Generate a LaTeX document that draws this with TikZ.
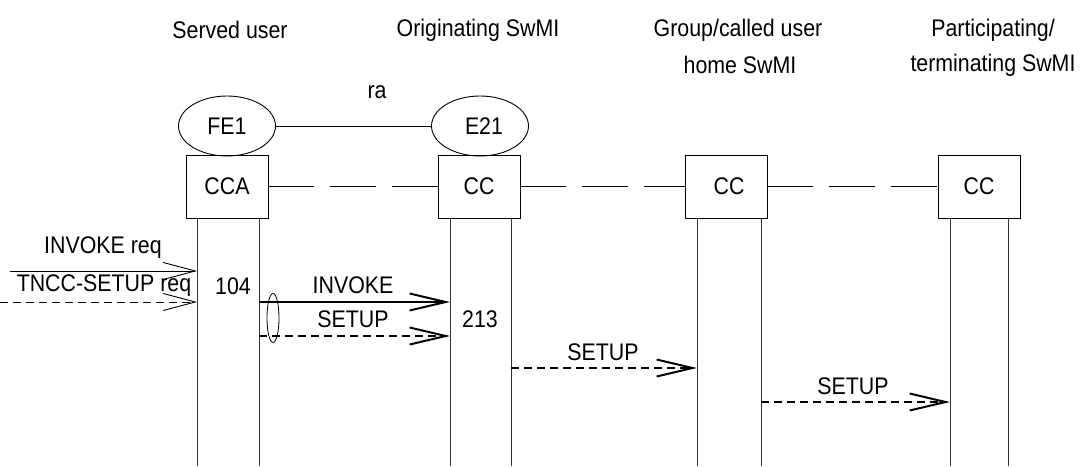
\documentclass[tikz,border=0pt]{standalone}
\usepackage{fontspec}
\setmainfont{Liberation Sans}[FakeStretch=0.89]
\usetikzlibrary{arrows.meta,shapes.geometric}
\begin{document}
\begin{tikzpicture}[x=1pt,y=-1pt,
  every node/.style={font=\fontsize{24}{35}\selectfont, inner sep=0pt},
  fe/.style={draw, ellipse, minimum width=97pt, minimum height=60pt, line width=0.9pt},
  ent/.style={draw, rectangle, minimum width=82pt, minimum height=63pt, line width=0.9pt},
  lifeline/.style={line width=0.9pt, draw=black!80},
  ra/.style={line width=0.9pt},
  conn/.style={line width=0.9pt, dash pattern=on 46pt off 16pt},
  thinarrow/.style={line width=0.9pt, -{Straight Barb[length=32pt,width=17pt,line width=0.9pt]}},
  thickarrow/.style={line width=2.4pt, -{Straight Barb[length=36pt,width=17pt,line width=2pt]}},
  thindash/.style={dash pattern=on 8pt off 5pt},
  thickdash/.style={dash pattern=on 8pt off 5pt}
]
\useasboundingbox (0,0) rectangle (1090,466);

% column headings
\node (h1) at (230,30) {Served user};
\node (h2) at (478,30) {Originating SwMI};
\node (h3a) at (738,30) {Group/called user};
\node (h3b) at (740,65) {home SwMI};
\node (h4a) at (993,30) {Participating/};
\node (h4b) at (993,65) {terminating SwMI};

% functional entities
\node[fe] (fe1) at (227,126) {FE1};
\node[fe] (e21) at (480,126) {\hspace*{8pt}E21};
\draw[ra] (fe1) -- (e21);
\node (ra) at (377,92) {ra};

% boxes
\node[ent] (b1) at (227,186.5) {CCA};
\node[ent] (b2) at (479,186.5) {CC};
\node[ent] (b3) at (726,186.5) {\hspace*{6pt}CC};
\node[ent] (b4) at (979,186.5) {CC};
\draw[conn] (b1.east) -- (b2.west);
\draw[conn] (b2.east) -- (b3.west);
\draw[conn] (b3.east) -- (b4.west);

% lifelines
\coordinate (l1a) at (197,218); \coordinate (l1b) at (259,218);
\coordinate (l2a) at (450,218); \coordinate (l2b) at (511,218);
\coordinate (l3a) at (697,218); \coordinate (l3b) at (761,218);
\coordinate (l4a) at (950,218); \coordinate (l4b) at (1008,218);
\coordinate (l1ae) at (197,466); \coordinate (l1be) at (259,466);
\coordinate (l2ae) at (450,466); \coordinate (l2be) at (511,466);
\coordinate (l3ae) at (697,466); \coordinate (l3be) at (761,466);
\coordinate (l4ae) at (950,466); \coordinate (l4be) at (1008,466);
\foreach \n in {l1a,l1b,l2a,l2b,l3a,l3b,l4a,l4b}
  \draw[lifeline] (\n) -- (\n e);

% messages
\coordinate (m1s) at (10,271);  \coordinate (m1e) at (197,271);
\coordinate (m2s) at (0,302);   \coordinate (m2e) at (197,302);
\coordinate (m3s) at (259,302); \coordinate (m3e) at (450,302);
\coordinate (m4s) at (259,336); \coordinate (m4e) at (450,336);
\coordinate (m5s) at (511,368); \coordinate (m5e) at (697,368);
\coordinate (m6s) at (761,402); \coordinate (m6e) at (950,402);

\draw[thinarrow] (m1s) -- (m1e);
\node (t1) at (103,248) {INVOKE req};
\draw[thinarrow, thindash] (m2s) -- (m2e);
\node (t2) at (104,286) {TNCC-SETUP req};
\node (n104) at (233,286) {104};

\draw[thickarrow] (m3s) -- (m3e);
\node (t3) at (353,285) {INVOKE};
\draw[thickarrow, thickdash] (m4s) -- (m4e);
\node (t4) at (353,319) {SETUP};
\node (n213) at (480,319) {213};
\node[draw, ellipse, minimum width=12pt, minimum height=49pt, line width=0.8pt] (grp) at (273,318) {};

\draw[thickarrow, thickdash] (m5s) -- (m5e);
\node (t5) at (603,352) {SETUP};
\draw[thickarrow, thickdash] (m6s) -- (m6e);
\node (t6) at (853,386) {SETUP};
\end{tikzpicture}
\end{document}
